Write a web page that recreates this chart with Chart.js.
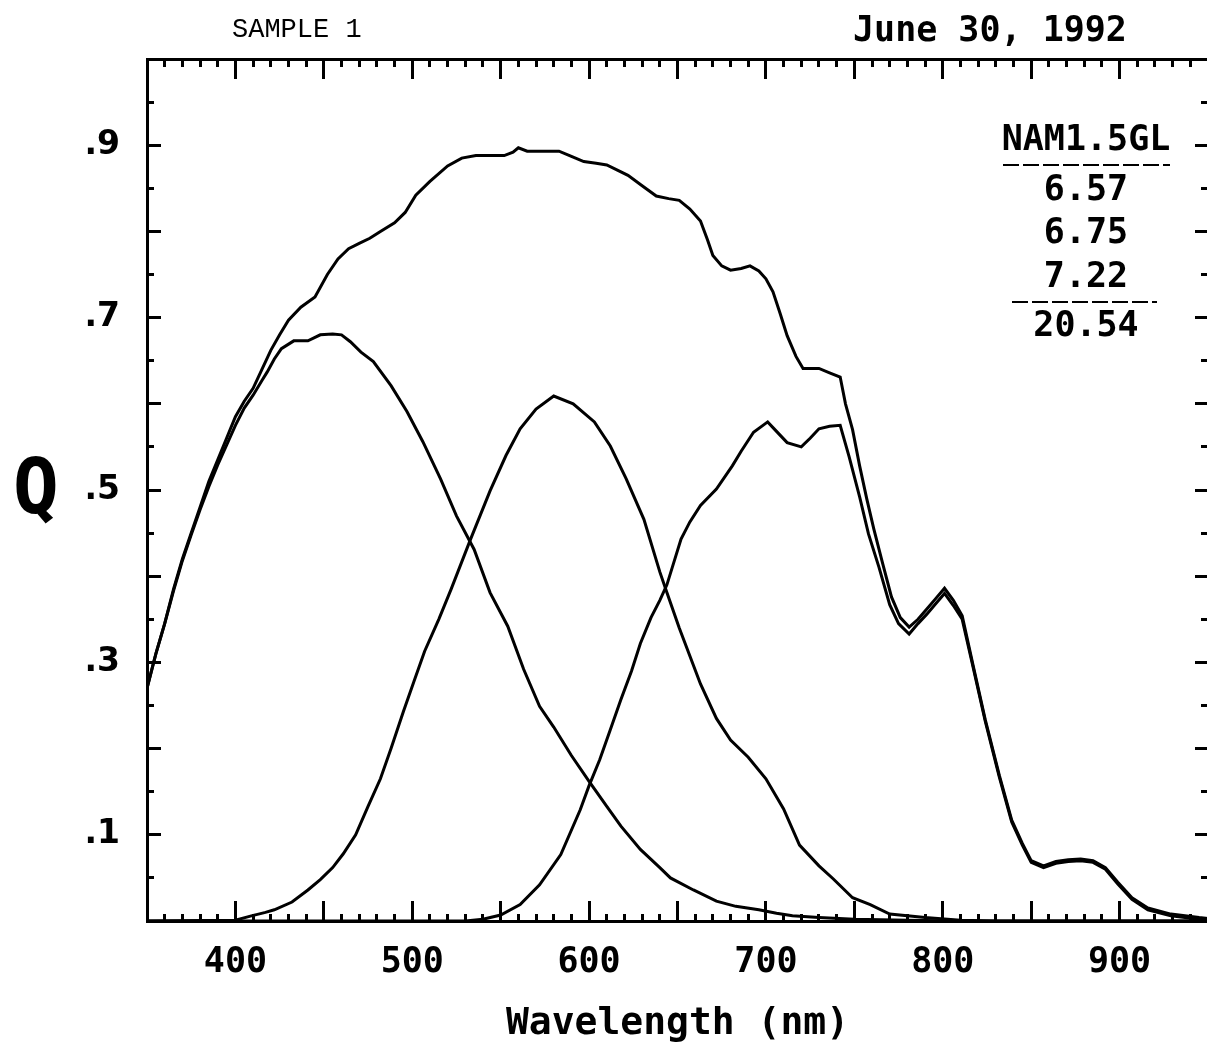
<!DOCTYPE html>
<html>
<head>
<meta charset="utf-8">
<title>Sample 1 - Q vs wavelength</title>
<script src="https://cdn.jsdelivr.net/npm/chart.js@4.4.1/dist/chart.umd.min.js"></script>
<style>
  html, body { margin: 0; padding: 0; background: #fff; overflow: hidden; }
  #wrap { position: relative; width: 1212px; height: 1048px; }
</style>
</head>
<body>
<div id="wrap"><canvas id="chart"></canvas></div>
<script>
// summed response (upper curve)
const totalNm = [
  350, 355, 360, 365, 370, 375, 380, 385, 390, 395,
  400, 405, 410, 415, 420, 425, 430, 437, 445, 452,
  458, 464, 470, 476, 482, 490, 496, 502, 510, 520,
  528, 536, 545, 552, 557, 560, 565, 575, 583, 590,
  597, 604, 610, 616, 622, 630, 638, 645, 651, 657,
  663, 667, 670, 675, 680, 686, 691, 696, 700, 704,
  708, 712, 717, 721, 726, 730, 736, 742, 745, 749,
  753, 757, 761, 766, 771, 776, 781, 786, 791, 796,
  801, 806, 811, 817, 824, 832, 839, 845, 850, 857,
  864, 871, 878, 885, 892, 899, 907, 916, 929, 945,
  950
];
const totalQ = [
  0.270, 0.310, 0.345, 0.385, 0.420, 0.450, 0.480, 0.510, 0.535, 0.560,
  0.585, 0.603, 0.618, 0.640, 0.662, 0.680, 0.697, 0.712, 0.724, 0.750,
  0.768, 0.780, 0.786, 0.792, 0.800, 0.810, 0.822, 0.842, 0.858, 0.876,
  0.885, 0.888, 0.888, 0.888, 0.892, 0.897, 0.893, 0.893, 0.893, 0.887,
  0.881, 0.879, 0.877, 0.871, 0.865, 0.853, 0.841, 0.838, 0.836, 0.826,
  0.812, 0.790, 0.772, 0.760, 0.755, 0.757, 0.760, 0.754, 0.745, 0.730,
  0.705, 0.679, 0.655, 0.641, 0.641, 0.641, 0.636, 0.631, 0.600, 0.570,
  0.528, 0.490, 0.455, 0.415, 0.376, 0.352, 0.341, 0.350, 0.362, 0.374,
  0.386, 0.372, 0.354, 0.298, 0.234, 0.169, 0.117, 0.090, 0.070, 0.064,
  0.069, 0.071, 0.072, 0.070, 0.062, 0.045, 0.027, 0.015, 0.008, 0.004,
  0.003
];

// top cell
const topNm = [
  350, 355, 360, 365, 370, 375, 380, 385, 390, 395,
  400, 405, 410, 415, 418, 422, 426, 433, 441, 448,
  455, 460, 465, 471, 478, 488, 497, 506, 516, 525,
  535, 544, 554, 563, 572, 580, 590, 600, 610, 618,
  629, 640, 646, 659, 672, 683, 696, 706, 715, 730,
  750, 780, 810, 950
];
const topQ = [
  0.270, 0.310, 0.345, 0.383, 0.418, 0.448, 0.477, 0.504, 0.529, 0.552,
  0.575, 0.595, 0.610, 0.627, 0.637, 0.652, 0.664, 0.673, 0.673, 0.680,
  0.681, 0.680, 0.672, 0.660, 0.649, 0.621, 0.591, 0.556, 0.513, 0.470,
  0.431, 0.381, 0.342, 0.292, 0.249, 0.225, 0.192, 0.162, 0.133, 0.110,
  0.083, 0.062, 0.050, 0.036, 0.023, 0.017, 0.013, 0.009, 0.006, 0.004,
  0.002, 0.001, 0, 0
];

// middle cell
const midNm = [
  350, 400, 409, 417, 422, 432, 441, 448, 455, 461,
  468, 475, 482, 488, 495, 501, 507, 515, 522, 533,
  544, 553, 561, 570, 580, 591, 603, 612, 621, 631,
  640, 644, 651, 663, 672, 680, 690, 700, 710, 719,
  730, 738, 749, 759, 770, 790, 810, 830, 950
];
const midQ = [
  0, 0.001, 0.006, 0.010, 0.013, 0.022, 0.036, 0.048, 0.062, 0.078,
  0.100, 0.133, 0.165, 0.200, 0.243, 0.278, 0.313, 0.350, 0.385, 0.443,
  0.499, 0.540, 0.571, 0.594, 0.609, 0.600, 0.579, 0.551, 0.513, 0.466,
  0.405, 0.381, 0.340, 0.275, 0.235, 0.210, 0.190, 0.165, 0.130, 0.088,
  0.064, 0.049, 0.027, 0.019, 0.008, 0.004, 0.001, 0, 0
];

// bottom cell
const botNm = [
  350, 530, 540, 550, 561, 572, 584, 595, 600, 606,
  612, 618, 624, 629, 635, 640, 644, 652, 657, 663,
  672, 681, 686, 693, 701, 706, 712, 720, 725, 730,
  736, 742, 747, 753, 758, 764, 770, 775, 781, 786,
  791, 796, 801, 806, 811, 817, 824, 832, 839, 845,
  850, 857, 864, 871, 878, 885, 892, 899, 907, 916,
  929, 945, 950
];
const botQ = [
  0, 0, 0.002, 0.007, 0.019, 0.042, 0.077, 0.129, 0.157, 0.187,
  0.222, 0.257, 0.290, 0.322, 0.352, 0.372, 0.390, 0.443, 0.463, 0.482,
  0.501, 0.528, 0.545, 0.567, 0.579, 0.568, 0.555, 0.550, 0.560, 0.571,
  0.574, 0.575, 0.539, 0.492, 0.449, 0.410, 0.367, 0.345, 0.333, 0.345,
  0.356, 0.368, 0.380, 0.366, 0.350, 0.296, 0.232, 0.167, 0.115, 0.088,
  0.068, 0.062, 0.067, 0.069, 0.070, 0.068, 0.060, 0.043, 0.025, 0.013,
  0.006, 0.002, 0.001
];

const xRange = [350, 950];
const yRange = [0, 1];
const xLabels = [400, 500, 600, 700, 800, 900];
const yLabels = [0.1, 0.3, 0.5, 0.7, 0.9];

const sampleName = "SAMPLE 1";
const runDate = "June 30, 1992";
const tableHead = "NAM1.5GL";
const tableRows = ["6.57", "6.75", "7.22", "20.54"];

function toPoints(nm, q) {
  return nm.map((x, i) => ({ x: x, y: q[i] }));
}

function curve(nm, q) {
  return {
    data: toPoints(nm, q),
    borderColor: "#000",
    borderWidth: 3,
    pointRadius: 0,
    tension: 0,
    fill: false
  };
}

// inward tick rows; only the labelled axes keep any layout size
function tickScale(position, step, len, size) {
  const horizontal = position === "top" || position === "bottom";
  return {
    type: "linear",
    position: position,
    min: horizontal ? xRange[0] : yRange[0],
    max: horizontal ? xRange[1] : yRange[1],
    weight: 0,
    ticks: { display: false, stepSize: step, autoSkip: false },
    grid: { drawOnChartArea: false, drawTicks: true, tickLength: -len, tickColor: "#000", tickWidth: 3 },
    border: { display: false },
    afterFit: function (scale) {
      if (horizontal) scale.height = size; else scale.width = size;
      // labels must not push the plot area in
      scale.paddingLeft = 0;
      scale.paddingRight = 0;
      scale.paddingTop = 0;
      scale.paddingBottom = 0;
    }
  };
}

const xMain = tickScale("bottom", 50, 20, 127);
xMain.weight = 1;
xMain.border = { display: true, width: 3, color: "#000" };
xMain.ticks = {
  display: true, stepSize: 50, autoSkip: false, maxRotation: 0, padding: 41, color: "#000",
  font: { family: "DejaVu Sans Mono", size: 35, weight: "bold" },
  callback: (value) => xLabels.includes(value) ? String(value) : ""
};
xMain.title = {
  display: true, text: "Wavelength (nm)", color: "#000",
  font: { family: "DejaVu Sans Mono", size: 38, weight: "bold" },
  padding: { top: 0, bottom: 1 }
};

const yMain = tickScale("left", 0.1, 14, 147);
yMain.weight = 1;
yMain.border = { display: true, width: 3, color: "#000" };
yMain.ticks = {
  display: true, stepSize: 0.1, autoSkip: false, padding: 41, color: "#000",
  font: { family: "DejaVu Sans", size: 33, weight: "bold" },
  callback: (value) => yLabels.some(v => Math.abs(v - value) < 1e-6) ? "." + Math.round(value * 10) : ""
};

const xTop = tickScale("top", 50, 20, 0);
xTop.border = { display: true, width: 3, color: "#000" };

const annotations = {
  id: "annotations",
  afterDraw(chart) {
    const ctx = chart.ctx;
    ctx.save();
    ctx.fillStyle = "#000";
    ctx.strokeStyle = "#000";
    ctx.textBaseline = "alphabetic";

    ctx.textAlign = "left";
    ctx.font = '27px "Liberation Mono"';
    ctx.fillText(sampleName, 232, 37);
    ctx.font = 'bold 35px "DejaVu Sans Mono"';
    ctx.fillText(runDate, 853, 41);

    ctx.textAlign = "center";
    ctx.font = 'bold 76px "DejaVu Sans Mono"';
    ctx.fillText("Q", 36, 513);

    ctx.font = 'bold 35px "DejaVu Sans Mono"';
    ctx.fillText(tableHead, 1086, 150);
    const baselines = [200, 243, 287, 336];
    tableRows.forEach((t, i) => ctx.fillText(t, 1086, baselines[i]));

    ctx.lineWidth = 2;
    ctx.setLineDash([16, 4]);
    ctx.beginPath();
    ctx.moveTo(1003, 165); ctx.lineTo(1170, 165);
    ctx.moveTo(1012, 302); ctx.lineTo(1157, 302);
    ctx.stroke();
    ctx.restore();
  }
};

new Chart(document.getElementById("chart"), {
  type: "line",
  data: {
    datasets: [
      curve(totalNm, totalQ),
      curve(topNm, topQ),
      curve(midNm, midQ),
      curve(botNm, botQ)
    ]
  },
  options: {
    responsive: true,
    maintainAspectRatio: false,
    devicePixelRatio: 1,
    animation: false,
    layout: { padding: { top: 59, right: 4, bottom: 0, left: 0 } },
    plugins: { legend: { display: false }, tooltip: { enabled: false } },
    scales: {
      x: xMain,
      xMinor: tickScale("bottom", 10, 7, 0),
      xTop: xTop,
      xTopMinor: tickScale("top", 10, 8, 0),
      y: yMain,
      yMinor: tickScale("left", 0.05, 7, 0),
      yRight: tickScale("right", 0.1, 13, 0),
      yRightMinor: tickScale("right", 0.05, 7, 0)
    }
  },
  plugins: [annotations]
});
</script>
</body>
</html>
